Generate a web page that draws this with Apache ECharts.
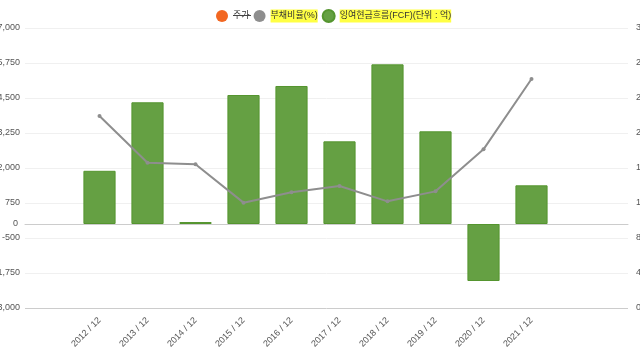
<!DOCTYPE html>
<html>
<head>
<meta charset="utf-8">
<script src="https://cdn.jsdelivr.net/npm/echarts@6/dist/echarts.min.js"></script>
<style>html,body{margin:0;padding:0;background:#fff;}#c{width:640px;height:360px;}</style>
</head>
<body>
<div id="c"></div>
<script>
var categories = ['2012 / 12','2013 / 12','2014 / 12','2015 / 12','2016 / 12','2017 / 12','2018 / 12','2019 / 12','2020 / 12','2021 / 12'];
var stockPrice = [];
var debtRatio = [219.4, 166.0, 164.2, 120.4, 132.2, 139.4, 121.9, 133.3, 181.3, 261.7];
var fcf = [1900, 4346, 70, 4607, 4929, 2952, 5702, 3310, -2036, 1381];
var leftMin = -3000, leftMax = 7000, leftInterval = 1250;
var rightMin = 0, rightMax = 320, rightInterval = 40;

var names = ['주가', '부채비율(%)', '잉여현금흐름(FCF)(단위 : 억)'];
var font = 'Arial, "Liberation Sans", "Noto Sans CJK KR", sans-serif';
var chart = echarts.init(document.getElementById('c'));
var gridLineColors = ['#cccccc'];
for (var i = 0; i < 8; i++) gridLineColors.push('#f0f0f0');

chart.setOption({
  animation: false,
  textStyle: {fontFamily: font},
  legend: {
    top: 4, left: 211,
    icon: 'circle', itemWidth: 12, itemHeight: 12, itemGap: 4,
    textStyle: {fontSize: 9, color: '#333', fontFamily: font,
      rich: {hl: {backgroundColor: '#ffff44', fontSize: 9, color: '#333', padding: [2, 0, 2, 0], fontFamily: font}}},
    formatter: function (n) { return n === names[0] ? n : '{hl|' + n + '}'; },
    data: names
  },
  graphic: [{type: 'line', z: 100, shape: {x1: 233, y1: 15.5, x2: 251, y2: 15.5}, style: {stroke: '#444', lineWidth: 1}, silent: true}],
  grid: [
    {left: 25, right: 12, top: 28, bottom: 52, outerBoundsMode: 'none', containLabel: false},
    {left: 75.5, right: 84.5, top: 28, bottom: 52, outerBoundsMode: 'none', containLabel: false}
  ],
  xAxis: [
    {type: 'value', gridIndex: 0, min: 0, max: 1, axisLabel: {show: false}, axisTick: {show: false}, splitLine: {show: false},
      axisLine: {show: true, onZero: true, onZeroAxisIndex: 0, lineStyle: {color: '#cccccc', width: 1}}},
    {type: 'category', gridIndex: 1, data: categories, position: 'bottom',
      axisLine: {show: false, onZero: false}, axisTick: {show: false},
      axisLabel: {rotate: 45, fontSize: 9, color: '#555', margin: 11, interval: 0}}
  ],
  yAxis: [
    {type: 'value', gridIndex: 0, position: 'left', min: leftMin, max: leftMax, interval: leftInterval,
      axisLine: {show: false}, axisTick: {show: false},
      axisLabel: {fontSize: 9, color: '#555', margin: 5},
      splitLine: {show: true, lineStyle: {color: gridLineColors, width: 1}}},
    {type: 'value', gridIndex: 0, position: 'right', min: rightMin, max: rightMax, interval: rightInterval,
      axisLine: {show: false}, axisTick: {show: false},
      axisLabel: {fontSize: 9, color: '#555', margin: 8},
      splitLine: {show: false}},
    {type: 'value', gridIndex: 1, min: leftMin, max: leftMax, show: false},
    {type: 'value', gridIndex: 1, min: rightMin, max: rightMax, show: false},
    {type: 'value', gridIndex: 0, position: 'left', min: leftMin, max: 7000, interval: 500,
      axisLine: {show: false}, axisTick: {show: false}, splitLine: {show: false},
      axisLabel: {fontSize: 9, color: '#555', margin: 7, formatter: function (v) { return v === 0 ? '0' : ''; }}}
  ],
  series: [
    {name: names[0], type: 'line', xAxisIndex: 1, yAxisIndex: 3, data: stockPrice, itemStyle: {color: '#f26722'}},
    {name: names[2], type: 'bar', xAxisIndex: 1, yAxisIndex: 2, data: fcf, barCategoryGap: '33%',
      itemStyle: {color: '#65a043', borderColor: '#55952f', borderWidth: 1}},
    {name: names[1], type: 'line', xAxisIndex: 1, yAxisIndex: 3, data: debtRatio, z: 5,
      symbol: 'circle', symbolSize: 4, showSymbol: true,
      lineStyle: {color: '#8e8e8e', width: 2}, itemStyle: {color: '#8e8e8e'}}
  ]
});
</script>
</body>
</html>
